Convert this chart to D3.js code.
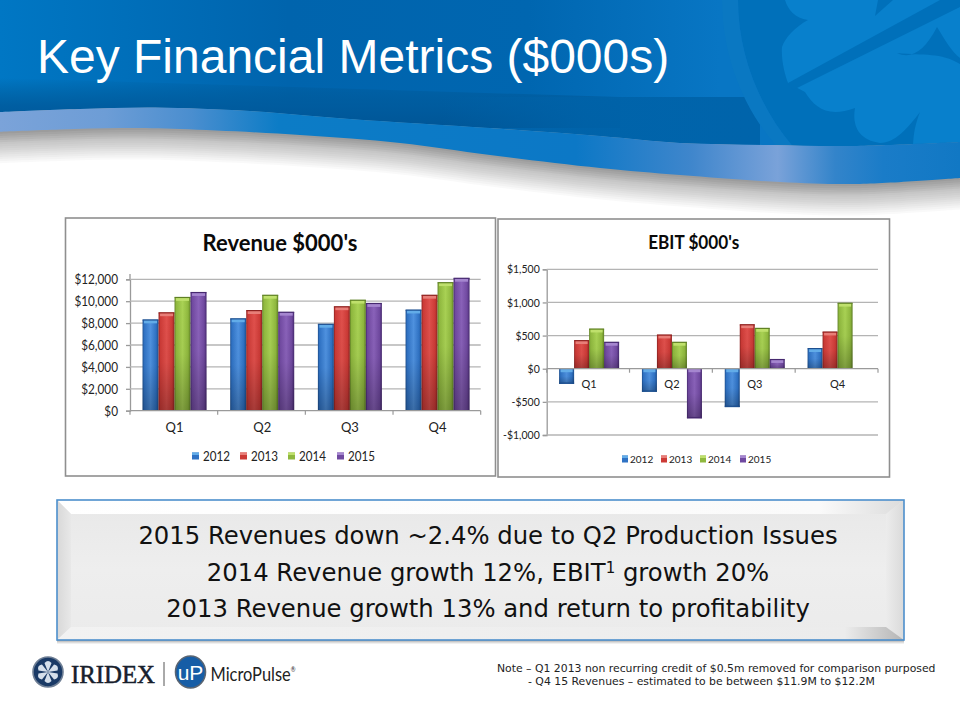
<!DOCTYPE html>
<html><head><meta charset="utf-8">
<script src="https://cdnjs.cloudflare.com/ajax/libs/d3/7.8.5/d3.min.js"></script>
<style>html,body{margin:0;padding:0;background:#fff}svg{display:block}text{font-family:Lato,sans-serif}</style>
</head><body><svg id="c" width="960" height="720"></svg>
<script>
const quarters = ["Q1","Q2","Q3","Q4"];
const years = ["2012","2013","2014","2015"];
const revenue2012 = [8300,8400,7900,9200];
const revenue2013 = [8950,9150,9500,10550];
const revenue2014 = [10350,10550,10100,11700];
const revenue2015 = [10800,9000,9800,12100];
const ebit2012 = [-230,-350,-580,305];
const ebit2013 = [425,510,665,555];
const ebit2014 = [600,400,610,990];
const ebit2015 = [400,-750,140,null];
const revenueTicks = [0,2000,4000,6000,8000,10000,12000];
const ebitTicks = [-1000,-500,0,500,1000,1500];
const summaryLines = [
  ["2015 Revenues down ~2.4% due to Q2 Production Issues"],
  ["2014 Revenue growth 12%, EBIT","1"," growth 20%"],
  ["2013 Revenue growth 13% and return to profitability"]];
const noteLines = ["Note – Q1 2013 non recurring credit of $0.5m removed for comparison purposed","- Q4 15 Revenues – estimated to be between $11.9M to $12.2M"];
const seriesColors = {
  "2012":{l:"#4f92e0",m:"#2f72c4",d:"#1d4f8f",cap:"#62ace8"},
  "2013":{l:"#e0504c",m:"#cc3a36",d:"#8e2220",cap:"#e87e78"},
  "2014":{l:"#a9d254",m:"#8fb83e",d:"#5f8024",cap:"#bfe06c"},
  "2015":{l:"#8a62ba",m:"#7049a0",d:"#46296f",cap:"#a586cf"}};

const svg = d3.select("#c");
const defs = svg.append("defs");
function grad(id,stops,x2=1,y2=0){
  const g=defs.append("linearGradient").attr("id",id).attr("x1",0).attr("y1",0).attr("x2",x2).attr("y2",y2);
  stops.forEach(s=>g.append("stop").attr("offset",s[0]).attr("stop-color",s[1]).attr("stop-opacity",s[2]===undefined?1:s[2]));
}
function narrow(sel,f){
  sel.each(function(){const n=this;n.setAttribute("textLength",n.getComputedTextLength()*f);n.setAttribute("lengthAdjust","spacingAndGlyphs");});
}
years.forEach(y=>{const c=seriesColors[y];
  grad("bar"+y,[[0,c.d],[.1,c.m],[.5,c.l],[.85,c.m],[1,c.d]]);
});
grad("barShade",[[0,"#000",0],[.5,"#000",.03],[1,"#000",.26]],0,1);
grad("headTop",[[0,"#0077c4"],[.13,"#006fba"],[.3,"#0064ad"],[.55,"#0066b0"],[.75,"#0876c4"],[1,"#0876c4"]]);
grad("bandSoft",[[0,"#00558f",0],[.55,"#005a9c",.85],[1,"#005596",1]],0,1);
grad("bandHard",[[0,"#0062a8",0],[.45,"#0062a8",.9],[1,"#0064ab",1]]);
grad("ribbon",[[0,"#7ba3d9"],[.11,"#6d9dd6"],[.2,"#4a8ecf"],[.29,"#0c7cc6"],[.6,"#0c78c6"],[.72,"#3f86cc"],[.81,"#7aa2d9"],[.87,"#3384ca"],[.92,"#1a7cc8"],[1,"#1178c4"]]);
grad("boxFill",[[0,"#e8e8e8"],[.5,"#eeeeee"],[1,"#ebebeb"]],0,1);
grad("bevelT",[[0,"#ffffff"],[.9,"#fafafa"],[1,"#dcdcdc"]]);
grad("bevelL",[[0,"#d8d8d8"],[1,"#e8e8e8"]]);
grad("bevelR",[[0,"#ececec"],[1,"#dadada"]]);
grad("bevelB",[[0,"#f2f2f2"],[.93,"#ececec"],[1,"#b4b4b4"]]);

/* header artwork */
const ribbonTop=[[0,112],[80,109],[155,107.5],[250,111],[350,119],[490,128],[600,136],[680,143],[770,145],[850,146],[960,142]];
const ribbonBot=[[0,131.7],[60,129.5],[120,128],[180,129],[300,135],[400,143],[490,155],[600,168],[680,175],[780,182],[857,184],[960,178]];
const curve=d3.line().x(d=>d[0]).y(d=>d[1]).curve(d3.curveCatmullRom);
const topD=curve(ribbonTop);
/* shadow under the ribbon */
const sh=svg.append("g");
d3.range(15,0,-1).forEach(i=>{
  sh.append("path").attr("d",curve(ribbonBot.map(p=>[p[0],p[1]+i*2.1]))+"L960,100L0,100Z").attr("fill","#000").attr("opacity",i<6?.042:.022);
});
svg.append("path").attr("d",topD+"L960,0L0,0Z").attr("fill","url(#headTop)");
defs.append("clipPath").attr("id","headClip").append("path").attr("d",topD+"L960,0L0,0Z");
const hd=svg.append("g").attr("clip-path","url(#headClip)");
hd.append("path").attr("d","M0,78L620,97V128H0Z").attr("fill","url(#bandSoft)");
hd.append("rect").attr("x",440).attr("y",97).attr("width",320).attr("height",60).attr("fill","url(#bandHard)");
/* shamrock watermark */
hd.append("path").attr("d","M738,0C738,55 760,110 796,150L960,150L960,0Z").attr("fill","#0070ba");
hd.append("path").attr("d","M722,0C722,58 745,112 780,150L796,150C760,110 738,55 738,0Z").attr("fill","#0a78c2");
hd.append("path").attr("d","M785,0C788,10 795,18 808,20C795,27 785,38 782,47C781,60 785,75 788,83L805,92C815,108 828,118 855,108C852,125 858,140 880,143C895,143 908,128 920,112C915,125 913,135 913,150L960,150L960,0Z").attr("fill","#0880cc");
hd.append("path").attr("d","M788,83L940,0L960,0L960,7L793,90Z").attr("fill","#0070ba");
hd.append("path").attr("d","M875,16L878,0L893,0Z").attr("fill","#0070ba");
hd.append("path").attr("d","M897,53C912,60 925,50 937,27C945,40 952,52 960,58L960,64C940,52 925,56 897,53Z").attr("fill","#0070ba");
const ribbonPath=curve(ribbonTop)+curve(ribbonBot.slice().reverse()).replace("M","L")+"Z";
svg.append("path").attr("d",ribbonPath).attr("fill","url(#ribbon)");
svg.append("text").attr("x",37).attr("y",73).attr("fill","#fff").style("font-family","'Liberation Sans'").attr("font-size",48).text("Key Financial Metrics ($000s)");

function chart(o){
  const g=svg.append("g");
  g.append("rect").attr("x",o.box[0]).attr("y",o.box[1]).attr("width",o.box[2]).attr("height",o.box[3]).attr("fill","#fff").attr("stroke","#8f8f8f").attr("stroke-width",1.6);
  const tt=g.append("text").attr("x",o.titleX).attr("y",o.titleY).attr("text-anchor","middle").attr("font-weight",700).attr("font-size",o.titleSize).attr("fill","#0a0a0a").text(o.title);
  if(o.titleLen) tt.attr("textLength",o.titleLen).attr("lengthAdjust","spacingAndGlyphs");
  const y=d3.scaleLinear().domain(o.yDomain).range(o.yRange);
  const x=d3.scaleBand().domain(quarters).range(o.xRange);
  const xi=d3.scaleBand().domain(years).range([0,x.bandwidth()]).paddingOuter(o.outer).paddingInner(0);
  const fmt=v=>(v<0?"-$":"$")+d3.format(",")(Math.abs(v));
  const ya=g.append("g").attr("transform",`translate(${o.xRange[0]},0)`)
    .call(d3.axisLeft(y).tickValues(o.ticks).tickSize(4).tickFormat(fmt));
  ya.selectAll("path,line").attr("stroke","#9a9a9a").attr("stroke-width",1.3);
  ya.selectAll("text").attr("font-size",o.tickSize).attr("fill","#222").style("font-family","Lato").attr("dx",o.tickDx).call(narrow,o.tickNarrow);
  if(o.axisTop) ya.append("line").attr("x1",0).attr("x2",0).attr("y1",o.axisTop).attr("y2",y(o.yDomain[1])).attr("stroke","#9a9a9a").attr("stroke-width",1.3);
  g.append("g").selectAll("line").data(o.ticks.filter(t=>t!==0)).join("line")
    .attr("x1",o.xRange[0]).attr("x2",o.xRange[1]).attr("y1",d=>y(d)).attr("y2",d=>y(d))
    .attr("stroke","#b4b4b4").attr("stroke-width",1.3);
  years.forEach(yr=>{
    const c=seriesColors[yr], vals=o.series[yr];
    const s=g.append("g");
    const rows=quarters.map((q,i)=>({q,v:vals[i]})).filter(d=>d.v!==null);
    const bx=d=>x(d.q)+xi(yr)+o.shift;
    s.selectAll("rect.b").data(rows).join("rect").attr("class","b")
      .attr("x",bx).attr("width",xi.bandwidth())
      .attr("y",d=>Math.min(y(d.v),y(0))).attr("height",d=>Math.abs(y(d.v)-y(0)))
      .attr("fill",`url(#bar${yr})`);
    s.selectAll("rect.s").data(rows).join("rect").attr("class","s")
      .attr("x",bx).attr("width",xi.bandwidth())
      .attr("y",d=>Math.min(y(d.v),y(0))).attr("height",d=>Math.abs(y(d.v)-y(0)))
      .attr("fill","url(#barShade)");
    s.selectAll("rect.c").data(rows).join("rect").attr("class","c")
      .attr("x",d=>bx(d)+1.5).attr("width",xi.bandwidth()-3)
      .attr("y",d=>d.v>=0?y(d.v)+.5:y(0)+.5).attr("height",3)
      .attr("fill",c.cap);
    s.selectAll("rect.e").data(rows).join("rect").attr("class","e")
      .attr("x",bx).attr("width",xi.bandwidth())
      .attr("y",d=>d.v>=0?y(d.v)-.5:y(d.v)-1.5).attr("height",1.2)
      .attr("fill",c.d);
  });
  const xa=g.append("g").attr("transform",`translate(0,${y(0)})`);
  xa.append("line").attr("x1",o.xRange[0]).attr("x2",o.xRange[1]).attr("stroke","#9a9a9a").attr("stroke-width",1.3);
  const edges=quarters.map(q=>x(q)).concat([o.xRange[1]]);
  xa.selectAll("line.t").data(edges).join("line").attr("class","t").attr("x1",d=>d).attr("x2",d=>d).attr("y1",0).attr("y2",4).attr("stroke","#9a9a9a").attr("stroke-width",1.2);
  xa.selectAll("text").data(quarters).join("text").attr("x",d=>x(d)+x.bandwidth()/2+o.shift).attr("y",o.labelDy).attr("text-anchor","middle").attr("font-size",o.catSize).attr("fill","#222").style("font-family","Lato").text(d=>d);
  const lg=g.append("g");
  years.forEach((yr,i)=>{
    const lx=o.legendX[i], c=seriesColors[yr];
    lg.append("rect").attr("x",lx).attr("y",o.legendY-3.5).attr("width",o.swatch).attr("height",7).attr("fill",c.m);
    lg.append("rect").attr("x",lx).attr("y",o.legendY-3.5).attr("width",o.swatch).attr("height",2.5).attr("fill",c.cap);
    lg.append("text").attr("x",lx+o.legendGap).attr("y",o.legendY+o.legendSize*.36).attr("font-size",o.legendSize).attr("fill","#222").style("font-family","Lato").text(yr).call(narrow,o.legendNarrow);
  });
}
chart({box:[65.5,218,430,258],title:"Revenue $000's",titleX:280,titleY:251,titleSize:22,
  yDomain:[0,12000],yRange:[410.7,279.3],axisTop:274,xRange:[130,480.7],ticks:revenueTicks,tickSize:14,tickDx:-5,tickNarrow:.84,catSize:13,labelDy:21,outer:.74,shift:.7,
  series:{"2012":revenue2012,"2013":revenue2013,"2014":revenue2014,"2015":revenue2015},
  legendX:[192,240,288,337],legendY:456,legendSize:12.5,legendNarrow:.93,swatch:7,legendGap:11});
chart({box:[498,219,391.5,258],title:"EBIT $000's",titleX:693.7,titleY:249,titleSize:18.5,titleLen:91,
  yDomain:[-1000,1500],yRange:[435,269.3],xRange:[546.7,878],ticks:ebitTicks,tickSize:11.5,tickDx:0,tickNarrow:.91,catSize:11,labelDy:19,outer:.76,shift:1,
  series:{"2012":ebit2012,"2013":ebit2013,"2014":ebit2014,"2015":ebit2015},
  legendX:[622,661,700,740],legendY:459,legendSize:10,legendNarrow:1,swatch:6,legendGap:8});

/* summary box */
const b=svg.append("g");
[[4,.06],[3,.08],[2,.1],[1,.12]].forEach(s=>b.append("rect").attr("x",57).attr("y",500+s[0]).attr("width",847).attr("height",140).attr("fill","#000").attr("opacity",s[1]));
b.append("rect").attr("x",57).attr("y",500).attr("width",847).attr("height",140).attr("fill","url(#boxFill)");
b.append("path").attr("d","M57,500H904L886,514H71Z").attr("fill","url(#bevelT)");
b.append("path").attr("d","M57,500L71,514V627L57,640Z").attr("fill","url(#bevelL)");
b.append("path").attr("d","M904,500L886,514V627L904,640Z").attr("fill","url(#bevelR)");
b.append("path").attr("d","M57,640L71,627H886L904,640Z").attr("fill","url(#bevelB)");
b.append("rect").attr("x",57).attr("y",500).attr("width",847).attr("height",140).attr("fill","none").attr("stroke","#4d8fcc").attr("stroke-width",1.6);
summaryLines.forEach((parts,i)=>{
  const ty=b.append("text").attr("x",488).attr("y",544+i*36.5).attr("text-anchor","middle").style("font-family","'DejaVu Sans'").attr("font-size",24.3).attr("fill","#111");
  parts.forEach((p,j)=>{const t=ty.append("tspan").text(p);
    if(parts.length>1&&j===1){t.attr("font-size",15).attr("dy",-8);}
    if(parts.length>1&&j===2){t.attr("dy",8);}
  });
});

/* notes */
svg.append("text").attr("x",497).attr("y",672).style("font-family","'DejaVu Sans'").attr("font-size",10.85).attr("fill","#222").text(noteLines[0]);
svg.append("text").attr("x",528).attr("y",685).style("font-family","'DejaVu Sans'").attr("font-size",10.85).attr("fill","#222").text(noteLines[1]);

/* logos */
const lo=svg.append("g");
lo.append("circle").attr("cx",48).attr("cy",672).attr("r",15).attr("fill","#1a3a66").attr("stroke","#6f7f95").attr("stroke-width",1.6);
d3.range(6).forEach(i=>lo.append("path").attr("d","M48,672L44.5,663Q48,659 51.5,663Z").attr("fill","#d5dfeb").attr("transform",`rotate(${i*60} 48 672)`));
lo.append("text").attr("x",71).attr("y",682.5).style("font-family","'Liberation Serif'").attr("font-size",25).attr("textLength",84).attr("lengthAdjust","spacingAndGlyphs").attr("stroke","#17202c").attr("stroke-width",.5).attr("fill","#17202c").text("IRIDEX");
lo.append("line").attr("x1",164).attr("x2",164).attr("y1",662).attr("y2",686).attr("stroke","#555").attr("stroke-width",1);
lo.append("ellipse").attr("cx",190.5).attr("cy",672).attr("rx",15).attr("ry",16).attr("fill","#165da6").attr("stroke","#5a6572").attr("stroke-width",1.6);
lo.append("text").attr("x",190.5).attr("y",680).attr("text-anchor","middle").style("font-family","'Liberation Sans'").attr("font-size",21).attr("fill","#fff").text("uP");
const mp=lo.append("text").attr("x",210.5).attr("y",680.5).style("font-family","Lato").attr("font-size",20).attr("textLength",85).attr("lengthAdjust","spacingAndGlyphs").attr("fill","#222");
mp.append("tspan").text("MicroPulse");
mp.append("tspan").attr("font-size",7).attr("dy",-9).text("®");
</script></body></html>
